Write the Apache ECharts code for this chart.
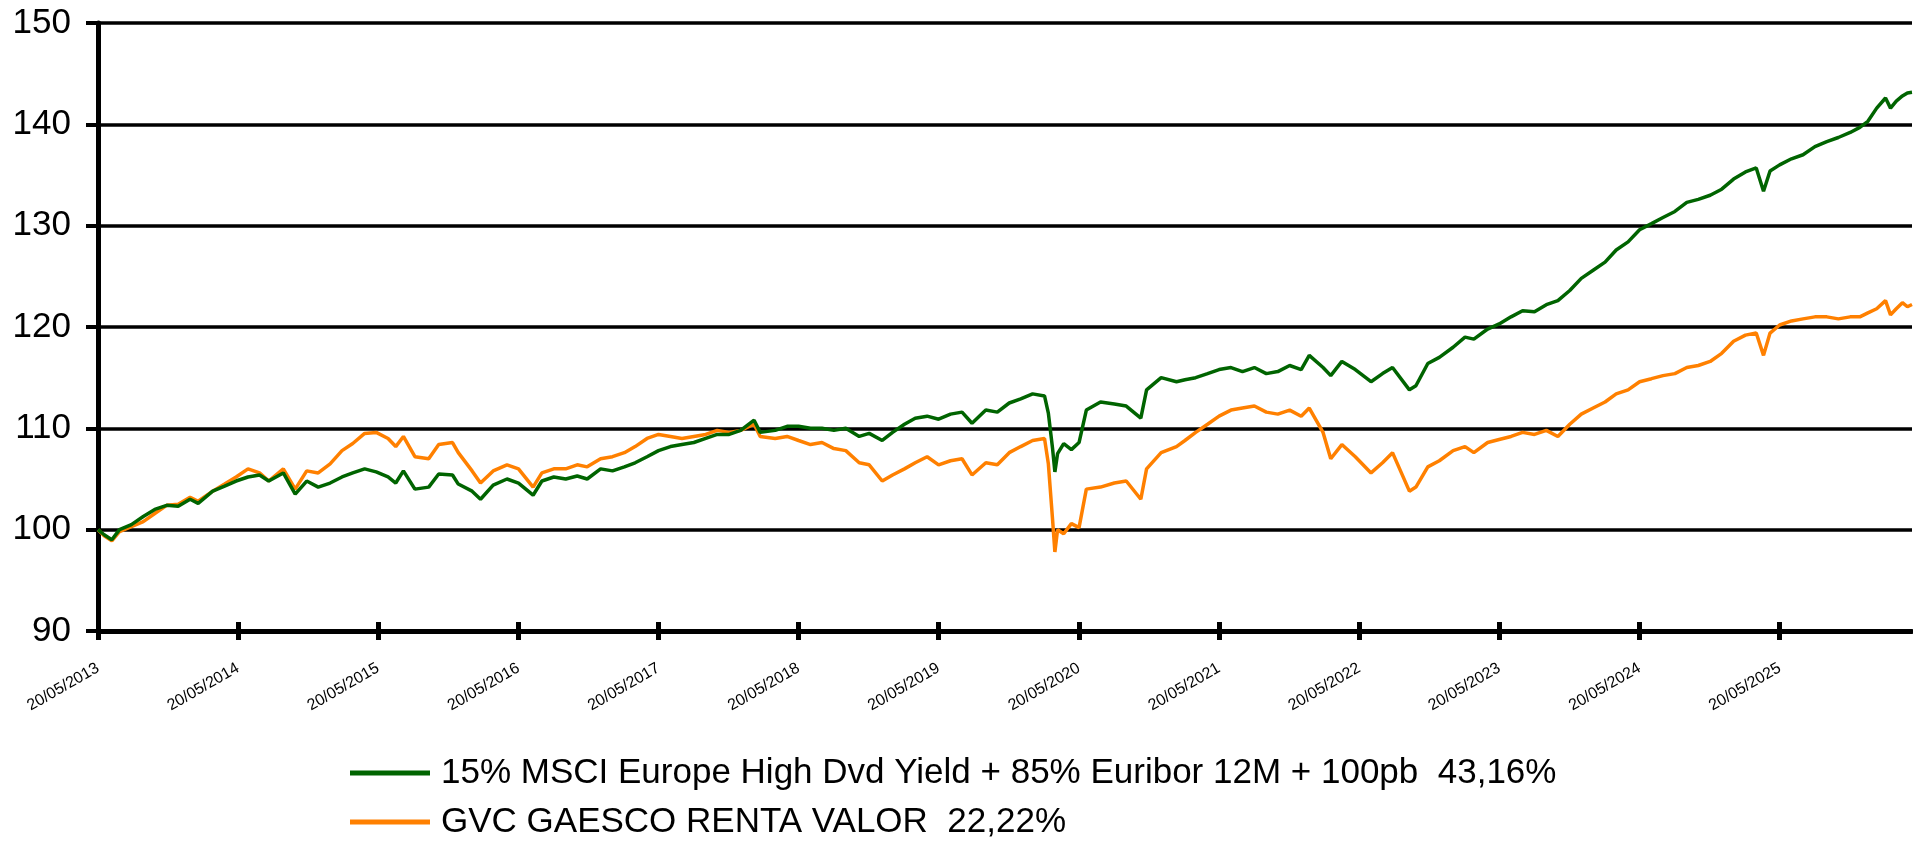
<!DOCTYPE html>
<html>
<head>
<meta charset="utf-8">
<script src="https://cdn.jsdelivr.net/npm/echarts@6/dist/echarts.min.js"></script>
<style>
html,body{margin:0;padding:0;background:#fff;}
#chart{width:1913px;height:841px;}
</style>
</head>
<body>
<div id="chart"></div>
<script>
const dates = [
'2013-05-20','2013-06-05','2013-06-25','2013-07-15','2013-08-15','2013-09-15','2013-10-15','2013-11-15','2013-12-15',
'2014-01-15','2014-02-05','2014-03-15','2014-04-15','2014-05-15','2014-06-15','2014-07-15','2014-08-08','2014-09-15','2014-10-16','2014-11-15','2014-12-15',
'2015-01-15','2015-02-15','2015-03-15','2015-04-15','2015-05-15','2015-06-15','2015-07-05','2015-07-25','2015-08-24','2015-09-29','2015-10-25','2015-11-30','2015-12-15',
'2016-01-20','2016-02-11','2016-03-15','2016-04-20','2016-05-20','2016-06-27','2016-07-20','2016-08-20','2016-09-20','2016-10-20','2016-11-15','2016-12-20',
'2017-01-20','2017-02-20','2017-03-20','2017-04-20','2017-05-20','2017-06-20','2017-07-20','2017-08-20','2017-09-20','2017-10-20','2017-11-20','2017-12-20',
'2018-01-24','2018-02-09','2018-03-20','2018-04-20','2018-05-20','2018-06-20','2018-07-20','2018-08-20','2018-09-20','2018-10-25','2018-11-20','2018-12-24',
'2019-01-20','2019-02-20','2019-03-20','2019-04-20','2019-05-20','2019-06-20','2019-07-20','2019-08-15','2019-09-20','2019-10-20','2019-11-20','2019-12-20',
'2020-01-20','2020-02-20','2020-03-01','2020-03-12','2020-03-18','2020-03-25','2020-04-10','2020-04-30','2020-05-20','2020-06-08','2020-07-15','2020-08-20','2020-09-20','2020-10-28','2020-11-12','2020-12-20',
'2021-01-29','2021-02-20','2021-03-20','2021-04-20','2021-05-20','2021-06-20','2021-07-20','2021-08-20','2021-09-20','2021-10-20','2021-11-20','2021-12-20',
'2022-01-10','2022-02-15','2022-03-07','2022-04-05','2022-05-10','2022-06-20','2022-07-20','2022-08-15','2022-09-28','2022-10-15','2022-11-15','2022-12-15',
'2023-01-20','2023-02-20','2023-03-15','2023-04-20','2023-05-20','2023-06-20','2023-07-20','2023-08-20','2023-09-20','2023-10-20','2023-11-20','2023-12-20',
'2024-01-20','2024-02-20','2024-03-20','2024-04-20','2024-05-20','2024-06-20','2024-07-20','2024-08-20','2024-09-20','2024-10-20','2024-11-20','2024-12-20',
'2025-01-20','2025-02-20','2025-03-20','2025-04-08','2025-04-25','2025-05-20','2025-06-20','2025-07-20','2025-08-20','2025-09-20','2025-10-20','2025-11-20','2025-12-15',
'2026-01-05','2026-01-28','2026-02-20','2026-03-05','2026-03-20','2026-04-05','2026-04-18','2026-04-30'
];

const benchmarkValues = [
100.0,99.5,99.0,100.0,100.5,101.3,102.0,102.4,102.3,
103.0,102.6,103.8,104.3,104.8,105.2,105.4,104.8,105.6,103.5,104.8,104.2,
104.6,105.2,105.6,106.0,105.7,105.2,104.6,105.8,104.0,104.2,105.5,105.4,104.5,
103.8,103.0,104.4,105.0,104.6,103.4,104.8,105.2,105.0,105.3,105.0,106.0,
105.8,106.2,106.6,107.2,107.8,108.2,108.4,108.6,109.0,109.4,109.4,109.8,
110.8,109.6,109.8,110.2,110.2,110.0,110.0,109.8,110.0,109.2,109.5,108.8,
109.6,110.4,111.0,111.2,110.9,111.4,111.6,110.5,111.8,111.6,112.5,112.9,
113.4,113.2,111.5,108.0,105.7,107.5,108.5,107.9,108.6,111.8,112.6,112.4,112.2,111.0,113.8,115.0,
114.6,114.8,115.0,115.4,115.8,116.0,115.6,116.0,115.4,115.6,116.2,115.8,
117.2,116.0,115.2,116.6,115.8,114.6,115.4,116.0,113.8,114.2,116.4,117.0,
118.0,119.0,118.8,119.8,120.3,121.0,121.6,121.5,122.2,122.6,123.6,124.8,
125.6,126.4,127.6,128.4,129.6,130.2,130.8,131.4,132.3,132.6,133.0,133.6,
134.6,135.3,135.7,133.4,135.4,136.0,136.6,137.0,137.8,138.3,138.7,139.2,139.7,
140.3,141.6,142.6,141.6,142.3,142.8,143.1,143.16
];

const fundValues = [
100.0,99.4,98.9,99.8,100.3,100.8,101.6,102.4,102.5,
103.2,102.8,103.8,104.5,105.2,106.0,105.6,104.8,106.0,104.0,105.8,105.6,
106.5,107.8,108.5,109.5,109.6,109.0,108.2,109.2,107.2,107.0,108.4,108.6,107.6,
105.8,104.6,105.8,106.4,106.0,104.2,105.6,106.0,106.0,106.4,106.2,107.0,
107.2,107.6,108.2,109.0,109.4,109.2,109.0,109.2,109.4,109.8,109.6,109.8,
110.4,109.2,109.0,109.2,108.8,108.4,108.6,108.0,107.8,106.6,106.4,104.8,
105.4,106.0,106.6,107.2,106.4,106.8,107.0,105.4,106.6,106.4,107.6,108.2,
108.8,109.0,106.5,101.0,97.8,100.0,99.6,100.6,100.2,104.0,104.2,104.6,104.8,103.0,106.0,107.6,
108.2,108.8,109.6,110.4,111.2,111.8,112.0,112.2,111.6,111.4,111.8,111.2,
112.0,109.6,107.0,108.4,107.2,105.6,106.6,107.6,103.8,104.2,106.2,106.8,
107.8,108.2,107.6,108.6,108.9,109.2,109.6,109.4,109.8,109.2,110.4,111.4,
112.0,112.6,113.4,113.8,114.6,114.9,115.2,115.4,116.0,116.2,116.6,117.4,
118.6,119.2,119.4,117.2,119.4,120.2,120.6,120.8,121.0,121.0,120.8,121.0,121.0,
121.4,121.8,122.6,121.2,121.8,122.4,122.0,122.22
];

const tickLabels = ['20/05/2013','20/05/2014','20/05/2015','20/05/2016','20/05/2017','20/05/2018','20/05/2019',
'20/05/2020','20/05/2021','20/05/2022','20/05/2023','20/05/2024','20/05/2025'];

const seriesNames = ['15% MSCI Europe High Dvd Yield + 85% Euribor 12M + 100pb  43,16%','GVC GAESCO RENTA VALOR  22,22%'];

function parseISO(s){const p=s.split('-');return Date.UTC(+p[0],+p[1]-1,+p[2]);}
function parseDMY(s){const p=s.split('/');return Date.UTC(+p[2],+p[1]-1,+p[0]);}
function pad(n){return (n<10?'0':'')+n;}
function fmt(v){const d=new Date(v);return pad(d.getUTCDate())+'/'+pad(d.getUTCMonth()+1)+'/'+d.getUTCFullYear();}

const tickValues = tickLabels.map(parseDMY);
const bench = dates.map((d,i)=>[parseISO(d),benchmarkValues[i]]);
const fund = dates.map((d,i)=>[parseISO(d),fundValues[i]]);
const xMin = parseISO(dates[0]);
const xMax = parseISO(dates[dates.length-1]);

const FONT = "'Liberation Sans', Arial, sans-serif";
const chart = echarts.init(document.getElementById('chart'), null, {renderer:'canvas'});
chart.setOption({
  animation:false,
  backgroundColor:'#ffffff',
  grid:{left:98,right:1,top:23,bottom:210,outerBoundsMode:'none',containLabel:false},
  legend:{
    orient:'vertical',left:350,top:755,padding:0,icon:'rect',itemWidth:80,itemHeight:5,itemGap:13,
    textStyle:{fontFamily:FONT,fontSize:35,color:'#000',lineHeight:36,padding:[0,0,0,6]},
    data:seriesNames
  },
  xAxis:[{
    type:'value',min:xMin,max:xMax,scale:true,
    axisLine:{show:true,onZero:false,lineStyle:{color:'#000',width:5}},
    axisTick:{show:true,inside:false,length:9,lineStyle:{color:'#000',width:5},customValues:tickValues},
    axisLabel:{show:true,customValues:tickValues,rotate:30,margin:36,fontFamily:FONT,fontSize:16,color:'#000',
      formatter:function(v){return fmt(v);}},
    splitLine:{show:false}
  },{
    type:'value',min:xMin,max:xMax,scale:true,position:'bottom',
    axisLine:{show:false,onZero:false},
    axisTick:{show:true,inside:true,length:9,lineStyle:{color:'#000',width:5},customValues:tickValues.slice(1)},
    axisLabel:{show:false},
    splitLine:{show:false}
  }],
  yAxis:{
    type:'value',min:90,max:150,interval:10,
    axisLine:{show:true,lineStyle:{color:'#000',width:5}},
    axisTick:{show:true,length:12,lineStyle:{color:'#000',width:4}},
    axisLabel:{fontFamily:FONT,fontSize:35,color:'#000',margin:27},
    splitLine:{show:true,lineStyle:{color:'#000',width:3.5}}
  },
  series:[{
    name:seriesNames[0],type:'line',xAxisIndex:0,data:bench,symbol:'none',
    lineStyle:{color:'#006400',width:3.5},itemStyle:{color:'#006400'},z:3
  },{
    name:seriesNames[1],type:'line',xAxisIndex:0,data:fund,symbol:'none',
    lineStyle:{color:'#ff8000',width:3.5},itemStyle:{color:'#ff8000'},z:2
  }]
});
</script>
</body>
</html>
